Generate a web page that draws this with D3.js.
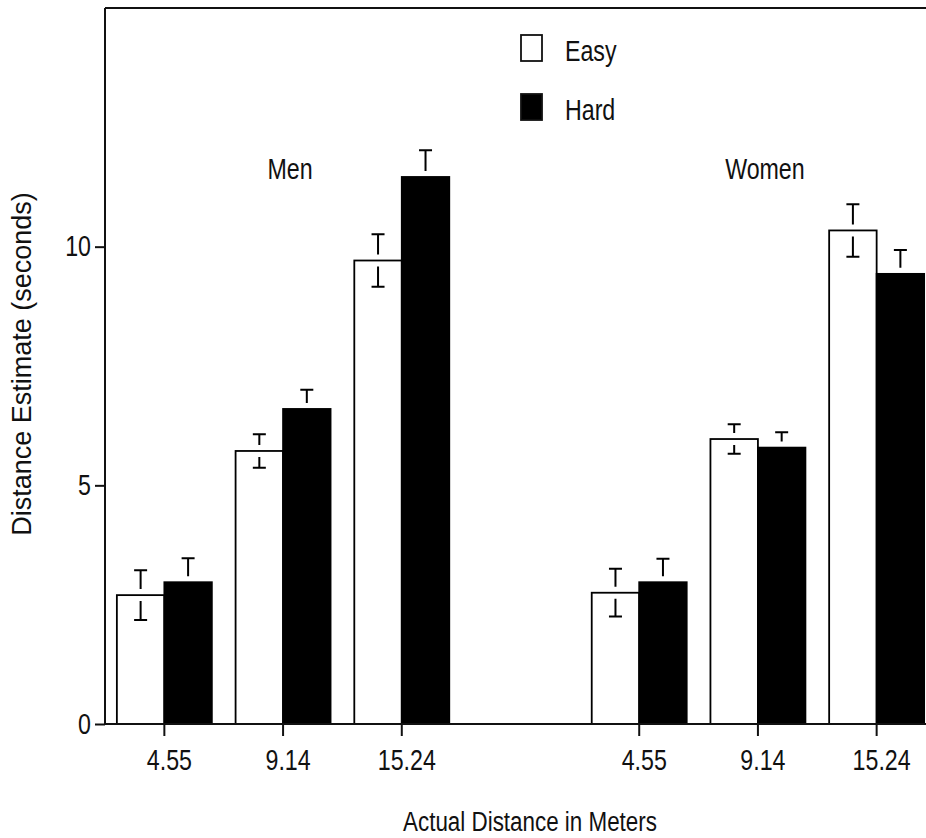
<!DOCTYPE html>
<html>
<head>
<meta charset="utf-8">
<script src="https://cdn.jsdelivr.net/npm/d3@7"></script>
<style>
body { margin: 0; background: #fff; }
text { font-family: "Liberation Sans", Arial, Helvetica, sans-serif; fill: #111; }
</style>
</head>
<body>
<div id="chart"></div>
<script>
const WIDTH = 926, HEIGHT = 838
const SQUEEZE = 0.8 // the type in the original is narrow

// data
const groups = ["Men", "Women"]
const distances = ["4.55", "9.14", "15.24"]
const conditions = ["Easy", "Hard"]
const menEasy = [2.70, 5.72, 9.71]
const menEasySE = [0.52, 0.35, 0.55]
const menHard = [2.97, 6.60, 11.46]
const menHardSE = [0.50, 0.40, 0.56]
const womenEasy = [2.75, 5.97, 10.34]
const womenEasySE = [0.50, 0.31, 0.55]
const womenHard = [2.97, 5.79, 9.43]
const womenHardSE = [0.49, 0.32, 0.50]
const yTicks = [0, 5, 10]

const values = { Men: { Easy: menEasy, Hard: menHard }, Women: { Easy: womenEasy, Hard: womenHard } }
const errors = { Men: { Easy: menEasySE, Hard: menHardSE }, Women: { Easy: womenEasySE, Hard: womenHardSE } }

// one empty slot between the two groups
const slots = []
groups.forEach((g, gi) => {
    if (gi > 0) slots.push("gap")
    distances.forEach(d => slots.push(g + "|" + d))
})

const rows = []
groups.forEach(g => distances.forEach((d, i) => conditions.forEach(c => {
    rows.push({ slot: g + "|" + d, cond: c, value: values[g][c][i], se: errors[g][c][i] })
})))

const svg = d3.select("#chart").append("svg")
    .attr("width", WIDTH)
    .attr("height", HEIGHT)

const x = d3.scaleBand()
    .domain(slots)
    .range([105, 936])
    .paddingInner(0.2)
    .paddingOuter(0.1)
const xc = d3.scaleBand()
    .domain(conditions)
    .range([0, x.bandwidth()])
const y = d3.scaleLinear()
    .domain([0, 15])
    .range([724, 8])

const squeeze = (sel, dx) => sel
    .attr("x", dx / SQUEEZE)
    .attr("transform", `scale(${SQUEEZE},1)`)

// top frame line
svg.append("line")
    .attr("x1", x.range()[0]).attr("x2", WIDTH)
    .attr("y1", y(15)).attr("y2", y(15))
    .attr("stroke", "#111").attr("stroke-width", 2)

// bars
svg.append("g").selectAll("rect")
    .data(rows)
    .join("rect")
    .attr("x", d => x(d.slot) + xc(d.cond))
    .attr("y", d => y(d.value))
    .attr("width", xc.bandwidth())
    .attr("height", d => y(0) - y(d.value))
    .attr("fill", d => d.cond === "Easy" ? "#fff" : "#000")
    .attr("stroke", "#000")
    .attr("stroke-width", 1.8)

// error bars, drawn with a small gap above and below the bar top
// (the lower half disappears inside the black bars)
const GAP = 6, CAP = 13
const err = svg.append("g")
    .attr("stroke", "#000")
    .attr("stroke-width", 2)
    .selectAll("g")
    .data(rows)
    .join("g")
    .attr("transform", d => `translate(${x(d.slot) + xc(d.cond) + xc.bandwidth() / 2},0)`)
err.append("path")
    .attr("fill", "none")
    .attr("d", d => {
        const top = y(d.value), hi = y(d.value + d.se), lo = y(d.value - d.se)
        let p = `M0,${top - GAP}V${hi}M${-CAP / 2},${hi}H${CAP / 2}`
        if (d.cond === "Easy") p += `M0,${top + GAP}V${lo}M${-CAP / 2},${lo}H${CAP / 2}`
        return p
    })

// axes
const yAxis = svg.append("g")
    .attr("transform", `translate(${x.range()[0]},0)`)
    .call(d3.axisLeft(y).tickValues(yTicks).tickSize(10).tickSizeOuter(0))
const xAxis = svg.append("g")
    .attr("transform", `translate(0,${y(0)})`)
    .call(d3.axisBottom(x)
        .tickValues(slots.filter(s => s !== "gap"))
        .tickFormat(s => s.split("|")[1])
        .tickSize(12).tickSizeOuter(0))
svg.selectAll(".domain, .tick line").attr("stroke", "#111").attr("stroke-width", 2)
yAxis.select(".domain").attr("d", `M0,${y(15)}V${y(0)}`)
xAxis.select(".domain").attr("d", `M${x.range()[0]},0H${WIDTH}`)

yAxis.selectAll(".tick text")
    .style("font-size", "29px")
    .attr("fill", "#111")
    .call(squeeze, -14)
xAxis.selectAll(".tick text")
    .style("font-size", "29px")
    .attr("fill", "#111")
    .attr("y", 46).attr("dy", 0)
    .call(squeeze, 5)

// group labels
svg.append("g").selectAll("text")
    .data(groups)
    .join("text")
    .attr("y", 179)
    .attr("text-anchor", "middle")
    .style("font-size", "29px")
    .text(d => d)
    .each(function (d) {
        const cx = x(d + "|" + distances[1]) + x.bandwidth() / 2 + 7
        d3.select(this).call(squeeze, cx)
    })

// legend
const legend = svg.append("g")
    .selectAll("g")
    .data(conditions)
    .join("g")
    .attr("transform", (d, i) => `translate(521,${35 + i * 59})`)
legend.append("rect")
    .attr("width", 21)
    .attr("height", 26)
    .attr("fill", d => d === "Easy" ? "#fff" : "#000")
    .attr("stroke", "#111")
    .attr("stroke-width", 1.8)
legend.append("text")
    .attr("y", 26)
    .style("font-size", "29px")
    .text(d => d)
    .call(squeeze, 44)

// axis titles
svg.append("text")
    .attr("text-anchor", "middle")
    .attr("y", 831)
    .style("font-size", "28px")
    .text("Actual Distance in Meters")
    .call(squeeze, 530)
svg.append("text")
    .attr("text-anchor", "middle")
    .attr("transform", "translate(31,364) rotate(-90)")
    .style("font-size", "27px")
    .text("Distance Estimate (seconds)")
</script>
</body>
</html>
